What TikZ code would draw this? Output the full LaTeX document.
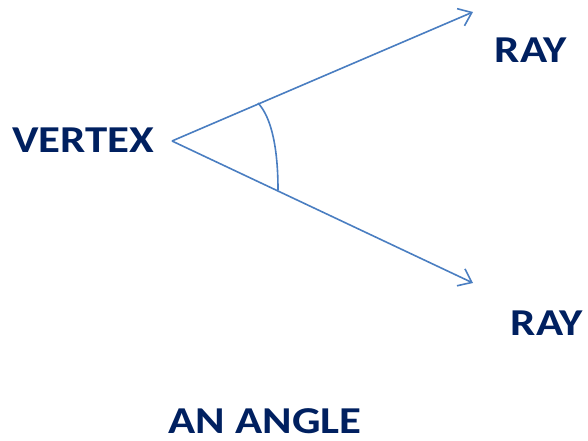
\documentclass[tikz,border=0pt]{standalone}
\usepackage{fontspec}
\setmainfont{Carlito}
\usetikzlibrary{arrows.meta}

\definecolor{raycol}{RGB}{74,126,193}
\definecolor{labcol}{RGB}{0,32,96}

\tikzset{every picture/.style={line width=0.75pt}}
\tikzset{
  rayline/.style={color=raycol, line width=1.2pt, -{Straight Barb[length=9pt,width=14pt,line width=1.2pt]}},
  anglearc/.style={color=raycol, line width=1.2pt},
  biglabel/.style={color=labcol, font=\fontsize{28.5}{30}\selectfont\bfseries, inner sep=0pt, anchor=base}
}
\newcommand{\widetxt}[1]{\scalebox{1.18}[1]{#1}}

\begin{document}
\begin{tikzpicture}[x=0.75pt,y=0.75pt,yscale=-1,xscale=1]
\useasboundingbox (0,0) rectangle (588,440);

%Points
\coordinate (vtx) at (172,141);
\coordinate (uptip) at (473,12);
\coordinate (downtip) at (473,283);
\coordinate (arctop) at (258,103);
\coordinate (arcbot) at (278,190);

%Straight Lines
\draw [rayline] (vtx) -- (uptip);
%Straight Lines
\draw [rayline] (vtx) -- (downtip);
%Shape: Arc
\draw [anglearc] (arctop) .. controls (272,118) and (278,150) .. (arcbot);

% Text Node
\node [biglabel] (vertexlab) at (83,152) {\widetxt{VERTEX}};
% Text Node
\node [biglabel] (rayup) at (531,62) {\widetxt{RAY}};
% Text Node
\node [biglabel] (raydown) at (547,335) {\widetxt{RAY}};
% Text Node
\node [biglabel] (anglelab) at (265,433) {\widetxt{AN ANGLE}};

\end{tikzpicture}
\end{document}
